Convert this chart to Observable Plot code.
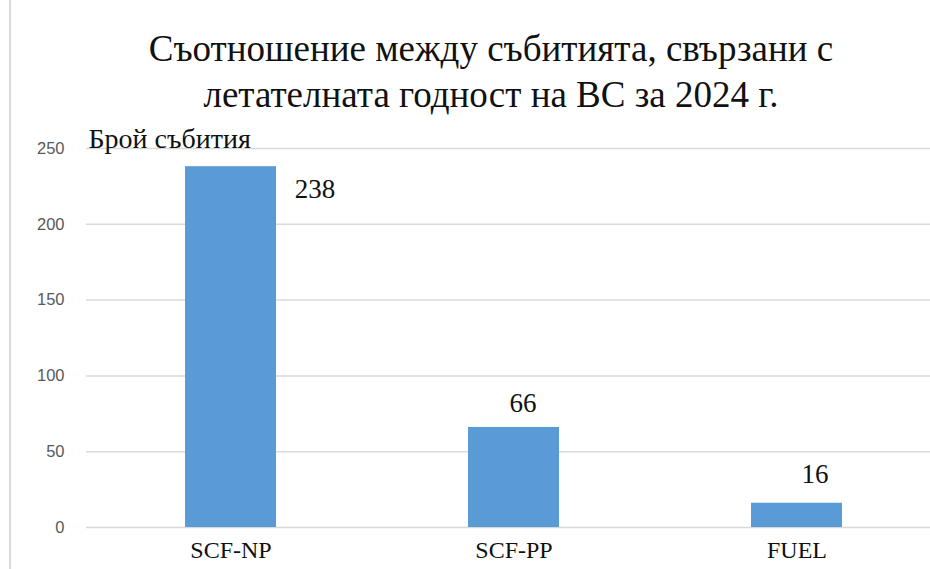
<!DOCTYPE html>
<html>
<head>
<meta charset="utf-8">
<script src="https://cdn.jsdelivr.net/npm/d3@7"></script>
<script src="https://cdn.jsdelivr.net/npm/@observablehq/plot@0.6"></script>
<style>
  html, body { margin: 0; padding: 0; background: #fff; }
  #wrap { position: relative; width: 930px; height: 569px; overflow: hidden; }
  #border { position: absolute; left: 9px; top: 0; width: 2px; height: 569px; background: #d9d9d9; }
  #title { position: absolute; left: 0; top: 0; width: 930px; height: 110px;
    font-family: "Liberation Serif", "Times New Roman", serif; font-size: 37px; color: #111;
    text-align: center; }
  #title div { position: absolute; left: 26px; width: 930px; text-align: center; white-space: nowrap; line-height: 42px; }
  #chart { position: absolute; left: 0; top: 110px; }
</style>
</head>
<body>
<div id="wrap">
  <div id="border"></div>
  <div id="title">
    <div id="t1" style="top:28px">Съотношение между събитията, свързани с</div>
    <div id="t2" style="top:74px">летателната годност на ВС за 2024 г.</div>
  </div>
  <div id="chart"></div>
</div>
<script>
const categories = ["SCF-NP", "SCF-PP", "FUEL"];
const values = [238, 66, 16];
const yTicks = [0, 50, 100, 150, 200, 250];
const yLabel = "Брой събития";

const data = categories.map((c, i) => ({category: c, value: values[i]}));
const serif = "'Liberation Serif', 'Times New Roman', serif";
const sans = "'Liberation Sans', Arial, sans-serif";

const plot = Plot.plot({
  width: 930,
  height: 459,
  marginTop: 38,
  marginBottom: 42,
  marginLeft: 86,
  marginRight: 0,
  style: {background: "transparent", overflow: "visible"},
  x: {domain: categories, range: [88, 938], paddingInner: 0.68, paddingOuter: 0.34, label: null},
  y: {domain: [0, 250], ticks: yTicks, label: null},
  marks: [
    Plot.ruleY(yTicks, {stroke: "#d9d9d9", strokeWidth: 1.5}),
    Plot.barY(data, {x: "category", y: "value", fill: "#5b9bd5"}),
    Plot.axisY({ticks: yTicks, tickSize: 0, tickPadding: 22, fontSize: 16.5,
      fill: "#595959", fontFamily: sans, label: null}),
    Plot.axisX({tickSize: 0, tickPadding: 13, fontSize: 24, fill: "#111", fontFamily: serif, label: null}),
    Plot.text(data.filter((d, i) => i === 0), {x: "category", y: "value", text: d => String(d.value),
      dx: 84, dy: 23, fontSize: 27, fontFamily: serif, fill: "#111"}),
    Plot.text(data.filter((d, i) => i === 1), {x: "category", y: "value", text: d => String(d.value),
      dx: 9, dy: -24, fontSize: 27, fontFamily: serif, fill: "#111"}),
    Plot.text(data.filter((d, i) => i === 2), {x: "category", y: "value", text: d => String(d.value),
      dx: 18, dy: -29, fontSize: 27, fontFamily: serif, fill: "#111"}),
    Plot.text([yLabel], {frameAnchor: "top-left", dx: 2, dy: -20, textAnchor: "start",
      fontSize: 28, fontFamily: serif, fill: "#111"})
  ]
});
const sel = d3.select(plot);
sel.selectAll("text").style("font-family", serif);
sel.selectAll('g[aria-label="y-axis tick label"] text').style("font-family", sans);
document.getElementById("chart").appendChild(plot);
</script>
</body>
</html>
